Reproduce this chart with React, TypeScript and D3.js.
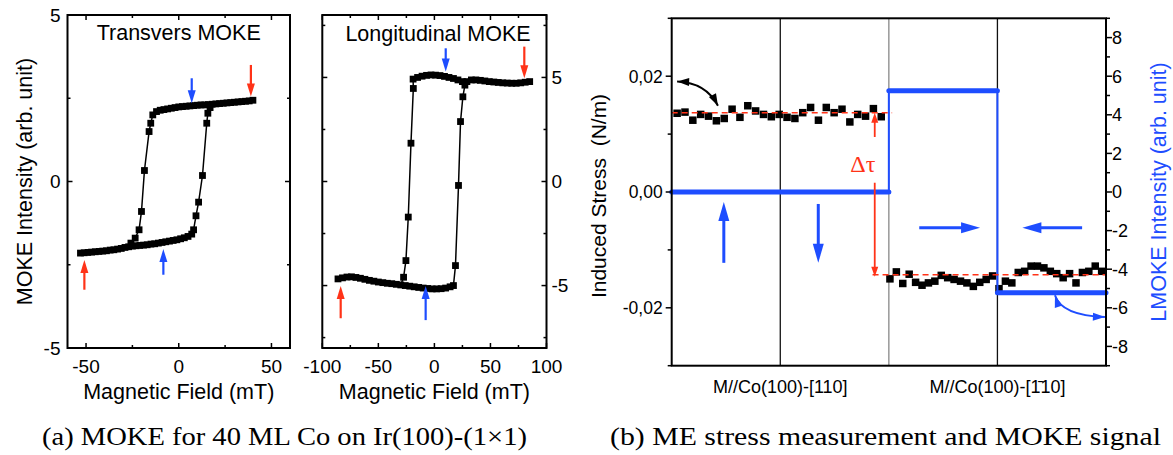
import React from 'react';
import * as d3 from 'd3';

const W = 1173, H = 455;
const SANS = '"Liberation Sans", Arial, Helvetica, sans-serif';
const SERIF = '"Liberation Serif", "Times New Roman", serif';
const BLUE = '#1e4dff';
const RED = '#ff3318';

// ---------- Panel (a) left: Transverse MOKE ----------
const tLowerField = d3.range(-53, 8, 2);
const tLowerMoke = [-2.15, -2.14, -2.13, -2.12, -2.11, -2.1, -2.09, -2.08, -2.06, -2.05, -2.03, -2.01, -1.98, -1.96, -1.94, -1.93, -1.92, -1.91, -1.9, -1.88, -1.87, -1.85, -1.83, -1.81, -1.79, -1.77, -1.75, -1.72, -1.69, -1.65, -1.58];
const tRiseField = [8.0, 9.3, 10.7, 12.8, 15.1, 15.7, 16.9];
const tRiseMoke = [-1.45, -1.03, -0.62, 0.18, 1.75, 2.05, 2.22];
const tUpperField = d3.range(-14, 41, 2);
const tUpperMoke = [2.0, 2.1, 2.14, 2.16, 2.18, 2.2, 2.22, 2.24, 2.25, 2.26, 2.27, 2.28, 2.29, 2.3, 2.3, 2.31, 2.32, 2.33, 2.34, 2.35, 2.36, 2.37, 2.38, 2.39, 2.4, 2.41, 2.42, 2.44];
const tFallField = [-15.1, -16.0, -18.5, -20.1, -21.4, -23.5, -25.8];
const tFallMoke = [1.75, 1.5, 0.33, -0.9, -1.45, -1.7, -1.85];
const tXTicks = [-50, -25, 0, 25, 50];
const tXLabels = [-50, 0, 50];
const tYTicks = [-5, -2.5, 0, 2.5, 5];
const tYLabels = [-5, 0, 5];

// ---------- Panel (a) right: Longitudinal MOKE ----------
const lLowerField = d3.range(-86, 17, 4);
const lLowerMoke = [-4.68, -4.63, -4.59, -4.58, -4.61, -4.65, -4.7, -4.75, -4.79, -4.83, -4.86, -4.89, -4.91, -4.94, -4.97, -5.0, -5.03, -5.06, -5.09, -5.12, -5.14, -5.16, -5.16, -5.15, -5.12, -5.06];
const lRiseField = [17, 18.8, 21.5, 23.3, 25.4, 27.2];
const lRiseMoke = [-5.0, -4.04, -0.19, 2.88, 4.07, 4.63];
const lUpperField = d3.range(-19, 87, 4);
const lUpperMoke = [4.92, 5.0, 5.06, 5.1, 5.12, 5.11, 5.09, 5.05, 5.0, 4.95, 4.88, 4.8, 4.8, 4.88, 4.88, 4.86, 4.83, 4.8, 4.78, 4.76, 4.74, 4.73, 4.72, 4.72, 4.74, 4.77, 4.8];
const lFallField = [-18.8, -20.9, -23.3, -25.4, -27.5];
const lFallMoke = [4.47, 1.84, -1.71, -3.8, -4.6];
const lXTicks = [-100, -75, -50, -25, 0, 25, 50, 75, 100];
const lXLabels = [-100, -50, 0, 50, 100];
const lYTicks = [-7.5, -5, -2.5, 0, 2.5, 5, 7.5];
const lYLabels = [-5, 0, 5];

// ---------- Panel (b): ME stress & LMOKE ----------
const stressA = [0.0136, 0.0138, 0.0124, 0.0134, 0.0131, 0.0123, 0.0127, 0.0143, 0.0129, 0.0149, 0.014, 0.0134, 0.013, 0.0134, 0.0129, 0.0127, 0.0137, 0.0146, 0.0124, 0.0146, 0.0137, 0.0143, 0.0121, 0.0134, 0.0131, 0.0144, 0.013];
const stressB = [-0.015, -0.0138, -0.0158, -0.0142, -0.0156, -0.0161, -0.0157, -0.0154, -0.0144, -0.0148, -0.0151, -0.0154, -0.0157, -0.0163, -0.0156, -0.0151, -0.0145, -0.0167, -0.0154, -0.0157, -0.0139, -0.0137, -0.0128, -0.0128, -0.0131, -0.0137, -0.0141, -0.0148, -0.0141, -0.0157, -0.0139, -0.0137, -0.0128, -0.0137];
const stressARange = [0.05, 1.93];
const stressBRange = [2.01, 3.96];
const meanStressA = 0.0137;
const meanStressB = -0.0143;
const lmokeX = [0, 2, 2, 3, 3, 4];
const lmokeY = [0, 0, 5.25, 5.25, -5.22, -5.22];
const sectionLines = [1, 2, 3];
const bLeftTicks = [-0.03, -0.02, -0.01, 0, 0.01, 0.02, 0.03];
const bLeftLabels = [-0.02, 0, 0.02];
const bRightTicks = d3.range(-9, 10, 1);
const bRightLabels = [-8, -6, -4, -2, 0, 2, 4, 6, 8];
const bXLabels = ['M//Co(100)-[110]', 'M//Co(100)-[1\u030410]'];

// scales
const p1x = d3.scaleLinear().domain([-60, 60]).range([67.5, 290]);
const p1y = d3.scaleLinear().domain([-5, 5]).range([348, 15]);
const p2x = d3.scaleLinear().domain([-100, 100]).range([322.3, 546.5]);
const p2y = d3.scaleLinear().domain([-8, 8]).range([348, 15]);
const pbx = d3.scaleLinear().domain([0, 4]).range([671.7, 1106]);
const pbyL = d3.scaleLinear().domain([-0.03, 0.03]).range([365.7, 18.3]);
const pbyR = d3.scaleLinear().domain([-9, 9]).range([365.7, 18.3]);

function zip(xs: number[], ys: number[]): [number, number][] {
  return xs.map((x, i) => [x, ys[i]] as [number, number]);
}

function Arrow({ x1, y1, x2, y2, color, w = 2.2, hl = 13, hw = 8 }: any) {
  const dx = x2 - x1, dy = y2 - y1;
  const L = Math.hypot(dx, dy);
  const ux = dx / L, uy = dy / L;
  const bx = x2 - ux * hl, by = y2 - uy * hl;
  const px = -uy, py = ux;
  return (
    <g>
      <line x1={x1} y1={y1} x2={bx + ux * 2} y2={by + uy * 2} stroke={color} strokeWidth={w} />
      <polygon points={`${x2},${y2} ${bx + (px * hw) / 2},${by + (py * hw) / 2} ${bx - (px * hw) / 2},${by - (py * hw) / 2}`} fill={color} />
    </g>
  );
}

function head(tipX: number, tipY: number, fromX: number, fromY: number, hl: number, hw: number) {
  const dx = tipX - fromX, dy = tipY - fromY;
  const L = Math.hypot(dx, dy);
  const ux = dx / L, uy = dy / L;
  const bx = tipX - ux * hl, by = tipY - uy * hl;
  const px = -uy, py = ux;
  return `${tipX},${tipY} ${bx + (px * hw) / 2},${by + (py * hw) / 2} ${bx - (px * hw) / 2},${by - (py * hw) / 2}`;
}

function CurvedArrow({ s, c, e, color, w = 2, hl = 12, hw = 8, startHead = true }: any) {
  return (
    <g>
      <path d={`M${s[0]},${s[1]} Q${c[0]},${c[1]} ${e[0]},${e[1]}`} fill="none" stroke={color} strokeWidth={w} />
      {startHead && <polygon points={head(s[0], s[1], c[0], c[1], hl, hw)} fill={color} />}
      <polygon points={head(e[0], e[1], c[0], c[1], hl, hw)} fill={color} />
    </g>
  );
}

function Squares({ pts, sx, sy, size = 6.8 }: any) {
  return (
    <g>
      {pts.map((p: [number, number], i: number) => (
        <rect key={i} x={sx(p[0]) - size / 2} y={sy(p[1]) - size / 2} width={size} height={size} fill="#000" />
      ))}
    </g>
  );
}

function InwardFrame({ sx, sy, xTicks, xLabels, yTicks, yLabels, labelSide }: any) {
  const [x0, x1] = sx.range();
  const [y0, y1] = sy.range(); // y0 bottom, y1 top
  const major = 5, minor = 3;
  return (
    <g>
      {xTicks.map((t: number) => {
        const len = xLabels.includes(t) ? major : minor;
        return (
          <g key={'x' + t}>
            <line x1={sx(t)} x2={sx(t)} y1={y0} y2={y0 - len} stroke="#000" strokeWidth={1.5} />
            <line x1={sx(t)} x2={sx(t)} y1={y1} y2={y1 + len} stroke="#000" strokeWidth={1.5} />
          </g>
        );
      })}
      {yTicks.map((t: number) => {
        const len = yLabels.includes(t) ? major : minor;
        return (
          <g key={'y' + t}>
            <line x1={x0} x2={x0 + len} y1={sy(t)} y2={sy(t)} stroke="#000" strokeWidth={1.5} />
            <line x1={x1} x2={x1 - len} y1={sy(t)} y2={sy(t)} stroke="#000" strokeWidth={1.5} />
          </g>
        );
      })}
      <rect x={x0} y={y1} width={x1 - x0} height={y0 - y1} fill="none" stroke="#000" strokeWidth={2} />
      {xLabels.map((t: number) => (
        <text key={'xl' + t} x={sx(t)} y={373} textAnchor="middle" fontSize={19} fontFamily={SANS}>{t}</text>
      ))}
      {yLabels.map((t: number) => (
        labelSide === 'left'
          ? <text key={'yl' + t} x={x0 - 7} y={sy(t)} dy="0.36em" textAnchor="end" fontSize={19} fontFamily={SANS}>{t}</text>
          : <text key={'yl' + t} x={x1 + 5} y={sy(t)} dy="0.36em" textAnchor="start" fontSize={19} fontFamily={SANS}>{t}</text>
      ))}
    </g>
  );
}

export default function App() {
  const line1 = d3.line<[number, number]>().x(d => p1x(d[0])).y(d => p1y(d[1]));
  const line2 = d3.line<[number, number]>().x(d => p2x(d[0])).y(d => p2y(d[1]));

  // transverse loop
  const tLower = zip(tLowerField, tLowerMoke);
  const tRise = zip(tRiseField, tRiseMoke);
  const tUpper = zip(tUpperField, tUpperMoke);
  const tFall = zip(tFallField, tFallMoke);
  const tAsc = [...tLower, ...tRise, ...tUpper.filter(p => p[0] > 17)];
  const tDesc = [...tUpper.slice().reverse(), ...tFall, ...tLower.filter(p => p[0] < -27).reverse()];

  const lLower = zip(lLowerField, lLowerMoke);
  const lRise = zip(lRiseField, lRiseMoke);
  const lUpper = zip(lUpperField, lUpperMoke);
  const lFall = zip(lFallField, lFallMoke);
  const lAsc = [...lLower, ...lRise, ...lUpper.filter(p => p[0] > 27)];
  const lDesc = [...lUpper.slice().reverse(), ...lFall, ...lLower.filter(p => p[0] < -29).reverse()];

  // panel b
  const stepA = (stressARange[1] - stressARange[0]) / (stressA.length - 1);
  const stepB = (stressBRange[1] - stressBRange[0]) / (stressB.length - 1);
  const ptsA = stressA.map((v, i) => [stressARange[0] + i * stepA, v] as [number, number]);
  const ptsB = stressB.map((v, i) => [stressBRange[0] + i * stepB, v] as [number, number]);
  const lm = zip(lmokeX, lmokeY);
  const lmLine = d3.line<[number, number]>().x(d => pbx(d[0])).y(d => pbyR(d[1]));
  const flats = [[lm[0], lm[1]], [lm[2], lm[3]], [lm[4], lm[5]]];

  const bTop = pbyL.range()[1], bBot = pbyL.range()[0];
  const bL = pbx.range()[0], bR = pbx.range()[1];

  return (
    <svg width={W} height={H} style={{ position: 'absolute', left: 0, top: 0, background: '#fff' }} fontFamily={SANS}>
      <rect width={W} height={H} fill="#fff" />
      {/* ---------- panel 1 ---------- */}
      <InwardFrame sx={p1x} sy={p1y} xTicks={tXTicks} xLabels={tXLabels} yTicks={tYTicks} yLabels={tYLabels} labelSide="left" />
      <path d={line1(tAsc) || ''} fill="none" stroke="#000" strokeWidth={1.5} />
      <path d={line1(tDesc) || ''} fill="none" stroke="#000" strokeWidth={1.5} />
      <Squares pts={[...tLower, ...tRise, ...tUpper, ...tFall]} sx={p1x} sy={p1y} />
      <text x={p1x(0)} y={40} textAnchor="middle" fontSize={21.5}>Transvers MOKE</text>
      <Arrow x1={p1x(38.9)} y1={p1y(3.5)} x2={p1x(38.9)} y2={p1y(2.55)} color={RED} />
      <Arrow x1={p1x(7)} y1={p1y(3.1)} x2={p1x(7)} y2={p1y(2.35)} color={BLUE} />
      <Arrow x1={p1x(-8.3)} y1={p1y(-2.8)} x2={p1x(-8.3)} y2={p1y(-2.03)} color={BLUE} />
      <Arrow x1={p1x(-50.9)} y1={p1y(-3.25)} x2={p1x(-50.9)} y2={p1y(-2.36)} color={RED} />
      <text transform={`translate(24,${p1y(0)}) rotate(-90)`} textAnchor="middle" dy="0.36em" fontSize={21.5}>MOKE Intensity (arb. unit)</text>
      <text x={p1x(0)} y={399} textAnchor="middle" fontSize={21.5}>Magnetic Field (mT)</text>

      {/* ---------- panel 2 ---------- */}
      <InwardFrame sx={p2x} sy={p2y} xTicks={lXTicks} xLabels={lXLabels} yTicks={lYTicks} yLabels={lYLabels} labelSide="right" />
      <path d={line2(lAsc) || ''} fill="none" stroke="#000" strokeWidth={1.5} />
      <path d={line2(lDesc) || ''} fill="none" stroke="#000" strokeWidth={1.5} />
      <Squares pts={[...lLower, ...lRise, ...lUpper, ...lFall]} sx={p2x} sy={p2y} />
      <text x={438} y={41} textAnchor="middle" fontSize={21.5}>Longitudinal MOKE</text>
      <Arrow x1={p2x(10.1)} y1={p2y(6.4)} x2={p2x(10.1)} y2={p2y(5.28)} color={BLUE} />
      <Arrow x1={p2x(80.2)} y1={p2y(6.48)} x2={p2x(80.2)} y2={p2y(4.96)} color={RED} />
      <Arrow x1={p2x(-83.6)} y1={p2y(-6.57)} x2={p2x(-83.6)} y2={p2y(-5.02)} color={RED} />
      <Arrow x1={p2x(-7.8)} y1={p2y(-6.66)} x2={p2x(-7.8)} y2={p2y(-5.02)} color={BLUE} />
      <text x={p2x(0)} y={399} textAnchor="middle" fontSize={21.5}>Magnetic Field (mT)</text>

      {/* ---------- panel b ---------- */}
      {sectionLines.map(s => (
        <line key={s} x1={pbx(s)} x2={pbx(s)} y1={bTop} y2={bBot} stroke={s === 2 ? '#888' : '#111'} strokeWidth={1.3} />
      ))}
      <Squares pts={ptsA} sx={pbx} sy={pbyL} size={7.5} />
      <Squares pts={ptsB} sx={pbx} sy={pbyL} size={7.5} />
      <path d={lmLine(lm) || ''} fill="none" stroke={BLUE} strokeWidth={2} />
      {flats.map((f, i) => (
        <path key={i} d={lmLine(f as [number, number][]) || ''} fill="none" stroke={BLUE} strokeWidth={5} strokeLinecap="round" />
      ))}
      <line x1={pbx(0)} x2={pbx(2.03)} y1={pbyL(meanStressA)} y2={pbyL(meanStressA)} stroke={RED} strokeWidth={1.6} strokeDasharray="6,4" />
      <line x1={pbx(1.85)} x2={pbx(4)} y1={pbyL(meanStressB)} y2={pbyL(meanStressB)} stroke={RED} strokeWidth={1.6} strokeDasharray="6,4" />
      {/* frame */}
      <rect x={bL} y={bTop} width={bR - bL} height={bBot - bTop} fill="none" stroke="#000" strokeWidth={2} />
      {bLeftTicks.map(t => (
        <line key={'bl' + t} x1={bL} x2={bL - (bLeftLabels.includes(t) ? 6 : 4)} y1={pbyL(t)} y2={pbyL(t)} stroke="#000" strokeWidth={1.5} />
      ))}
      {bLeftLabels.map(t => (
        <text key={'blt' + t} x={bL - 9} y={pbyL(t)} dy="0.36em" textAnchor="end" fontSize={17.5}>{d3.format('.2f')(t).replace('.', ',').replace('\u2212', '-')}</text>
      ))}
      {bRightTicks.map(t => (
        <line key={'br' + t} x1={bR} x2={bR + (bRightLabels.includes(t) ? 6 : 4)} y1={pbyR(t)} y2={pbyR(t)} stroke="#000" strokeWidth={1.5} />
      ))}
      {bRightLabels.map(t => (
        <text key={'brt' + t} x={bR + 6} y={pbyR(t)} dy="0.36em" textAnchor="start" fontSize={18}>{t}</text>
      ))}
      <text transform={`translate(598,196) rotate(-90)`} textAnchor="middle" dy="0.36em" fontSize={21} style={{ whiteSpace: 'pre' }}>Induced Stress  (N/m)</text>
      <text transform={`translate(1158,192) rotate(-90)`} textAnchor="middle" dy="0.36em" fontSize={21.5} fill={BLUE}>LMOKE Intensity (arb. unit)</text>
      {bXLabels.map((t, i) => (
        <text key={t} x={pbx(i * 2 + 1)} y={393} textAnchor="middle" fontSize={18}>{t}</text>
      ))}
      {/* annotations */}
      <CurvedArrow s={[pbx(0.05), pbyL(0.0191)]} c={[pbx(0.316), pbyL(0.0189)]} e={[pbx(0.426), pbyL(0.0149)]} color="#000" />
      <CurvedArrow s={[pbx(3.53), pbyR(-5.35)]} c={[pbx(3.59), pbyR(-6.4)]} e={[pbx(3.99), pbyR(-6.48)]} color={BLUE} />
      <Arrow x1={pbx(1.87)} y1={pbyL(0.0095)} x2={pbx(1.87)} y2={pbyL(meanStressA)} color={RED} w={1.8} hl={10} hw={7} />
      <Arrow x1={pbx(1.87)} y1={pbyL(0.0016)} x2={pbx(1.87)} y2={pbyL(-0.01465)} color={RED} w={1.8} hl={10} hw={7} />
      <text x={pbx(1.76)} y={pbyL(0.0035)} textAnchor="middle" fontSize={24} fontFamily={SERIF} fill={RED}>Δτ</text>
      <Arrow x1={pbx(0.48)} y1={pbyR(-3.67)} x2={pbx(0.48)} y2={pbyR(-0.52)} color={BLUE} w={3} hl={19} hw={11} />
      <Arrow x1={pbx(1.35)} y1={pbyR(-0.62)} x2={pbx(1.35)} y2={pbyR(-3.67)} color={BLUE} w={3} hl={19} hw={11} />
      <Arrow x1={pbx(2.28)} y1={pbyR(-1.85)} x2={pbx(2.84)} y2={pbyR(-1.85)} color={BLUE} w={3} hl={19} hw={11} />
      <Arrow x1={pbx(3.78)} y1={pbyR(-1.85)} x2={pbx(3.23)} y2={pbyR(-1.85)} color={BLUE} w={3} hl={19} hw={11} />

      {/* captions */}
      <text x={42} y={445} fontSize={25} fontFamily={SERIF} textLength={485} lengthAdjust="spacingAndGlyphs">(a) MOKE for 40 ML Co on Ir(100)-(1×1)</text>
      <text x={610} y={445} fontSize={25} fontFamily={SERIF} textLength={551} lengthAdjust="spacingAndGlyphs">(b) ME stress measurement and MOKE signal</text>
    </svg>
  );
}
